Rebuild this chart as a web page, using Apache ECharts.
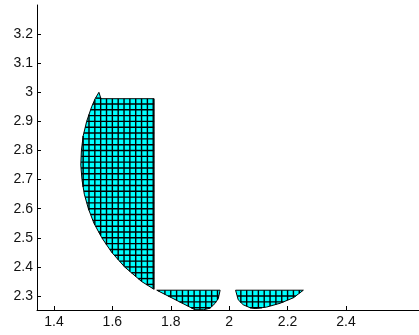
<!DOCTYPE html>
<html>
<head>
<meta charset="utf-8">
<script src="https://cdn.jsdelivr.net/npm/echarts@6/dist/echarts.min.js"></script>
<style>
  html, body { margin: 0; padding: 0; background: #fff; }
  #chart { width: 419px; height: 335px; }
</style>
</head>
<body>
<div id="chart"></div>
<script>
// outlines of the three shaded regions
const region1X = [1.554, 1.561, 1.743, 1.743, 1.700, 1.642, 1.598, 1.564, 1.537, 1.518, 1.504, 1.496, 1.492, 1.494, 1.500, 1.512, 1.529, 1.541];
const region1Y = [3.000, 2.978, 2.978, 2.323, 2.350, 2.400, 2.450, 2.500, 2.550, 2.600, 2.650, 2.700, 2.750, 2.800, 2.850, 2.900, 2.950, 2.978];
const region2X = [1.752, 1.969, 1.963, 1.952, 1.934, 1.912, 1.883];
const region2Y = [2.320, 2.320, 2.292, 2.275, 2.258, 2.253, 2.253];
const region3X = [2.022, 2.254, 2.220, 2.174, 2.128, 2.089, 2.071, 2.048, 2.031];
const region3Y = [2.320, 2.320, 2.294, 2.275, 2.262, 2.257, 2.260, 2.270, 2.287];

const xTicks = [1.4, 1.6, 1.8, 2, 2.2, 2.4];
const yTicks = [2.3, 2.4, 2.5, 2.6, 2.7, 2.8, 2.9, 3, 3.1, 3.2];
const meshStep = 0.02;

const regions = [[region1X, region1Y], [region2X, region2Y], [region3X, region3Y]];

// where a vertical (or horizontal) line at c enters and leaves a polygon
function cuts(xs, ys, c, vertical) {
  const a = vertical ? xs : ys, b = vertical ? ys : xs;
  const hits = [];
  for (let i = 0; i < a.length; i++) {
    const j = (i + 1) % a.length;
    if ((a[i] <= c) !== (a[j] <= c)) {
      const t = (c - a[i]) / (a[j] - a[i]);
      hits.push(b[i] + t * (b[j] - b[i]));
    }
  }
  hits.sort((p, q) => p - q);
  const segs = [];
  for (let k = 0; k + 1 < hits.length; k += 2) segs.push([hits[k], hits[k + 1]]);
  return segs;
}

function renderRegion(params, api) {
  const [xs, ys] = regions[params.dataIndex];
  const pts = xs.map((x, i) => api.coord([x, ys[i]]));
  const mesh = { stroke: '#000', lineWidth: 1.4 };
  const children = [{
    type: 'polygon',
    shape: { points: pts },
    style: { fill: '#00ffff', stroke: null }
  }];
  const x0 = Math.ceil(Math.min(...xs) / meshStep) * meshStep;
  for (let c = x0; c < Math.max(...xs); c += meshStep) {
    cuts(xs, ys, c, true).forEach(([y1, y2]) => {
      const p1 = api.coord([c, y1]), p2 = api.coord([c, y2]);
      children.push({ type: 'line', shape: { x1: p1[0], y1: p1[1], x2: p2[0], y2: p2[1] }, style: mesh });
    });
  }
  const y0 = Math.ceil(Math.min(...ys) / meshStep) * meshStep;
  for (let c = y0; c < Math.max(...ys); c += meshStep) {
    cuts(xs, ys, c, false).forEach(([x1, x2]) => {
      const p1 = api.coord([x1, c]), p2 = api.coord([x2, c]);
      children.push({ type: 'line', shape: { x1: p1[0], y1: p1[1], x2: p2[0], y2: p2[1] }, style: mesh });
    });
  }
  children.push({
    type: 'polygon',
    shape: { points: pts },
    style: { fill: null, stroke: '#000', lineWidth: 1 }
  });
  return { type: 'group', children };
}

const chart = echarts.init(document.getElementById('chart'));
const fmt = v => String(+v.toFixed(1));
const labelFont = { color: '#111', fontSize: 14, fontFamily: 'Liberation Sans, Arial, sans-serif' };
chart.setOption({
  animation: false,
  grid: { left: 37, top: 5, right: 0, bottom: 25 },
  xAxis: {
    type: 'value', min: 1.342, max: 2.65,
    axisLine: { show: true, lineStyle: { color: '#000', width: 1 } },
    axisTick: { show: true, inside: true, length: 4, customValues: xTicks, lineStyle: { color: '#000' } },
    axisLabel: Object.assign({ customValues: xTicks, formatter: fmt, margin: 5 }, labelFont),
    splitLine: { show: false }
  },
  yAxis: {
    type: 'value', min: 2.252, max: 3.3,
    axisLine: { show: true, lineStyle: { color: '#000', width: 1 } },
    axisTick: { show: true, inside: true, length: 4, customValues: yTicks, lineStyle: { color: '#000' } },
    axisLabel: Object.assign({ customValues: yTicks, formatter: fmt, margin: 4 }, labelFont),
    splitLine: { show: false }
  },
  series: [{
    type: 'custom',
    renderItem: renderRegion,
    data: [0, 1, 2],
    clip: true
  }]
});
</script>
</body>
</html>
